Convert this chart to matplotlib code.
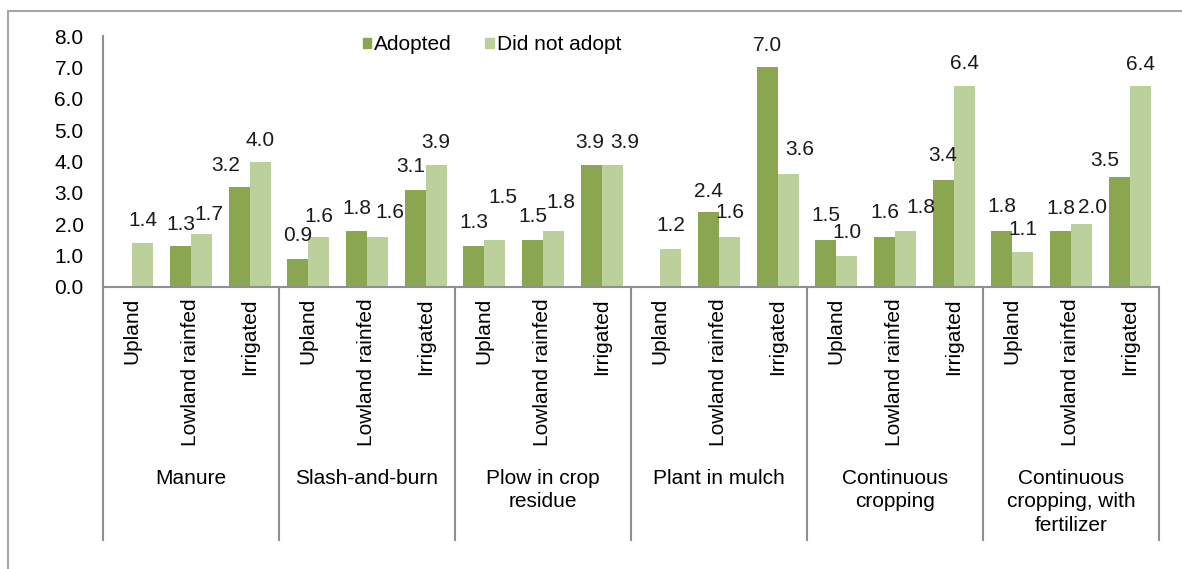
import numpy as np
import matplotlib.pyplot as plt
from matplotlib.lines import Line2D
from matplotlib.patches import Patch

plt.rcParams['font.family'] = ['Liberation Sans', 'DejaVu Sans']

# ===============================
# DATA
# ===============================
praticas = ["Manure", "Slash-and-burn", "Plow in crop\nresidue", "Plant in mulch",
            "Continuous\ncropping", "Continuous\ncropping, with\nfertilizer"]
ecossistemas = ["Upland", "Lowland rainfed", "Irrigated"]

adopted = [np.nan, 1.3, 3.2,
           0.9, 1.8, 3.1,
           1.3, 1.5, 3.9,
           np.nan, 2.4, 7.0,
           1.5, 1.6, 3.4,
           1.8, 1.8, 3.5]
did_not_adopt = [1.4, 1.7, 4.0,
                 1.6, 1.6, 3.9,
                 1.5, 1.8, 3.9,
                 1.2, 1.6, 3.6,
                 1.0, 1.8, 6.4,
                 1.1, 2.0, 6.4]

# deslocamento dos rótulos (px): dx horizontal e distância acima da barra
dx_adopt = [0, 0, -13, 0, 0, -4, 0, 0, -1, 0, 0, 0, 0, 0, 0, 0, 0, -14]
gap_adopt = [23, 22, 21, 23, 22, 23, 24, 23, 22, 23, 20, 22, 24, 24, 25, 24, 22, 17]
dx_nao = [0, 7, 0, 0, 12, 0, 8, 7, 13, 0, 0, 12, 0, 15, 0, 0, 11, 0]
gap_nao = [23, 19, 21, 20, 24, 22, 42, 28, 22, 24, 24, 25, 23, 23, 23, 23, 17, 22]

cor_adopt = "#8BA651"
cor_nao = "#BBD09A"
cor_eixo = "#8F8F8F"
fs = 15

# ===============================
# PLOT
# ===============================
fig = plt.figure(figsize=(11.82, 5.69), dpi=100)
ax = fig.add_axes([103 / 1182, 1 - 287 / 569, (1159 - 103) / 1182, (287 - 36) / 569])

n = len(adopted)
x = np.arange(n)
w = 0.36
ax.bar(x - w / 2, adopted, w, color=cor_adopt, label="Adopted")
ax.bar(x + w / 2, did_not_adopt, w, color=cor_nao, label="Did not adopt")

# rótulos de dados
px = 72 / 100  # pixels -> pontos
for xs, vals, dxs, gaps in [(x - w / 2, adopted, dx_adopt, gap_adopt),
                            (x + w / 2, did_not_adopt, dx_nao, gap_nao)]:
    for xi, v, dx, gp in zip(xs, vals, dxs, gaps):
        if np.isnan(v):
            continue
        ax.annotate(f"{v:.1f}", (xi, v), xytext=(dx * px, gp * px), textcoords="offset points",
                    ha="center", va="center", fontsize=fs, color="#1a1a1a")

ax.set_xlim(-0.5, n - 0.5)
ax.set_ylim(0, 8)
ax.set_yticks(np.arange(0, 8.1, 1.0))
ax.set_yticklabels([f"{v:.1f}" for v in np.arange(0, 8.1, 1.0)], fontsize=fs)
ax.set_xticks(x)
ax.set_xticklabels(ecossistemas * len(praticas), rotation=90, fontsize=fs, va="top")
ax.tick_params(axis="y", length=0, pad=14)
ax.tick_params(axis="x", length=0, pad=8)

for s in ["top", "right"]:
    ax.spines[s].set_visible(False)
for s in ["left", "bottom"]:
    ax.spines[s].set_color(cor_eixo)
    ax.spines[s].set_linewidth(1.5)

# linhas separadoras dos grupos e rótulos de grupo
trans = ax.get_xaxis_transform()
for g in range(len(praticas) + 1):
    xg = g * 3 - 0.5
    ax.add_line(Line2D([xg, xg], [0, -(540 - 287) / 251], transform=trans,
                       color=cor_eixo, lw=1.5, clip_on=False))
for g, nome in enumerate(praticas):
    ax.text(g * 3 + 1, -(469 - 287) / 251, nome, transform=trans, ha="center", va="top",
            fontsize=fs, linespacing=1.29)

# legenda
handles = [Patch(color=cor_adopt), Patch(color=cor_nao)]
fig.legend(handles, ["Adopted", "Did not adopt"], loc="center", bbox_to_anchor=(492 / 1182, 1 - 45 / 569),
           ncol=2, frameon=False, fontsize=fs, handlelength=0.4, handleheight=0.4,
           handletextpad=0.15, columnspacing=1.6)

# moldura externa
fig.add_artist(Line2D([8 / 1182, 8 / 1182], [0, 1 - 11 / 569], transform=fig.transFigure,
                      color="#A6A6A6", lw=1.5))
fig.add_artist(Line2D([8 / 1182, 1], [1 - 11 / 569, 1 - 11 / 569], transform=fig.transFigure,
                      color="#A6A6A6", lw=1.5))

fig.savefig("out.png", dpi=100)
